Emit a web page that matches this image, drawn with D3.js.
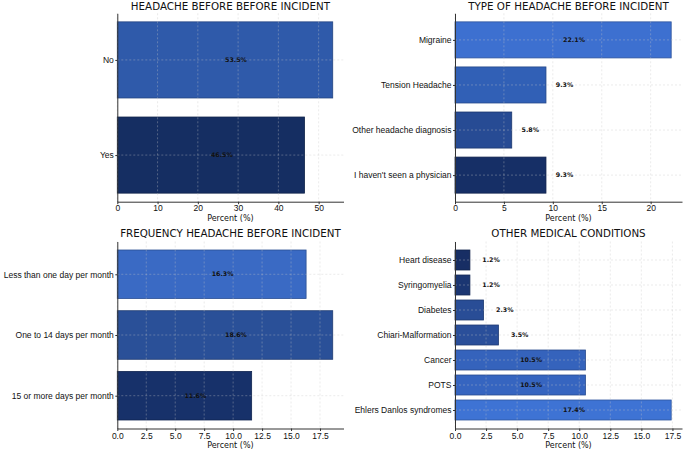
<!doctype html>
<html lang="en">
<head>
<meta charset="utf-8">
<title>Headache survey panels</title>
<style>
  body { margin: 0; background: #fff; }
  svg { display: block; font-family: "DejaVu Sans", sans-serif; }
  .title { font-size: 10.3px; fill: #111; }
  .xlabel { font-size: 8px; fill: #111; }
  .tick text { font-size: 8.5px; fill: #111; }
  .val { font-size: 6.3px; font-weight: bold; fill: #111; }
  .grid line { stroke: #c8c8c8; stroke-opacity: 0.6; stroke-dasharray: 2,2; stroke-width: 0.6; }
</style>
<script src="https://d3js.org/d3.v7.min.js"></script>
</head>
<body>
<div id="chart"></div>
<script>
// data, top to bottom in each panel
var headacheCats = ["No", "Yes"];
var headacheVals = [53.5, 46.5];
var headacheTicks = [0, 10, 20, 30, 40, 50];

var typeCats = ["Migraine", "Tension Headache", "Other headache diagnosis", "I haven't seen a physician"];
var typeVals = [22.1, 9.3, 5.8, 9.3];
var typeTicks = [0, 5, 10, 15, 20];

var freqCats = ["Less than one day per month", "One to 14 days per month", "15 or more days per month"];
var freqVals = [16.3, 18.6, 11.6];
var freqTicks = [0, 2.5, 5, 7.5, 10, 12.5, 15, 17.5];

var condCats = ["Heart disease", "Syringomyelia", "Diabetes", "Chiari-Malformation", "Cancer", "POTS", "Ehlers Danlos syndromes"];
var condVals = [1.2, 1.2, 2.3, 3.5, 10.5, 10.5, 17.4];
var condTicks = [0, 2.5, 5, 7.5, 10, 12.5, 15, 17.5];

var W = 685, H = 451;
var svg = d3.select("#chart").append("svg").attr("width", W).attr("height", H);

// panel boxes (axes area) + colours
var panels = [
  {title: "HEADACHE BEFORE BEFORE INCIDENT", cats: headacheCats, vals: headacheVals, ticks: headacheTicks, fmt: d3.format("d"),
   x0: 117.3, x1: 343.5, top: 13.3, bottom: 201.7, tickY: 211, labY: 220.5, titleY: 10,
   colors: ["#2f5aaa", "#152e62"]},
  {title: "TYPE OF HEADACHE BEFORE INCIDENT", cats: typeCats, vals: typeVals, ticks: typeTicks, fmt: d3.format("d"),
   x0: 455, x1: 682, top: 13.3, bottom: 201.7, tickY: 211, labY: 220.5, titleY: 10,
   colors: ["#3d70d0", "#3160b6", "#274b94", "#162f66"]},
  {title: "FREQUENCY HEADACHE BEFORE INCIDENT", cats: freqCats, vals: freqVals, ticks: freqTicks, fmt: d3.format(".1f"),
   x0: 117.3, x1: 343.5, top: 241.5, bottom: 428.5, tickY: 438.5, labY: 447.8, titleY: 237,
   colors: ["#3a6ac4", "#2a5098", "#17316a"]},
  {title: "OTHER MEDICAL CONDITIONS", cats: condCats, vals: condVals, ticks: condTicks, fmt: d3.format(".1f"),
   x0: 455, x1: 682, top: 241.5, bottom: 428.5, tickY: 438.5, labY: 447.8, titleY: 237,
   colors: ["#172e64", "#1b3672", "#294d96", "#2a4f9a", "#3563bc", "#3665c0", "#3e73d4"]}
];

panels.forEach(function(p) {
  var n = p.cats.length;
  var m = 0.05 * (n - 1 + 0.8);
  var x = d3.scaleLinear().domain([0, d3.max(p.vals) * 1.05]).range([p.x0, p.x1]);
  var y = d3.scaleLinear().domain([-0.4 - m, n - 1 + 0.4 + m]).range([p.top, p.bottom]);
  var g = svg.append("g");

  // bars
  g.selectAll("rect").data(p.vals).enter().append("rect")
    .attr("x", x(0))
    .attr("y", function(d, i) { return y(i - 0.4); })
    .attr("width", function(d) { return x(d) - x(0); })
    .attr("height", function(d, i) { return y(i + 0.4) - y(i - 0.4); })
    .attr("fill", function(d, i) { return p.colors[i]; })
    .attr("stroke", function(d, i) { return d3.color(p.colors[i]).darker(0.8); })
    .attr("stroke-width", 0.8);

  // grid on top of bars
  var grid = g.append("g").attr("class", "grid");
  grid.selectAll(".gx").data(p.ticks).enter().append("line")
    .attr("x1", function(d) { return x(d); }).attr("x2", function(d) { return x(d); })
    .attr("y1", p.top).attr("y2", p.bottom);
  grid.selectAll(".gy").data(p.cats).enter().append("line")
    .attr("x1", p.x0).attr("x2", p.x1)
    .attr("y1", function(d, i) { return y(i); }).attr("y2", function(d, i) { return y(i); });

  // value labels: inside (from the middle) for large bars, after the bar otherwise
  g.selectAll(".val").data(p.vals).enter().append("text")
    .attr("class", "val")
    .attr("x", function(d) { return d > 10 ? x(d / 2) : x(d + 1); })
    .attr("y", function(d, i) { return y(i); })
    .attr("dy", "0.35em")
    .text(function(d) { return d.toFixed(1) + "%"; });

  // axes
  var xAxis = d3.axisBottom(x).tickValues(p.ticks).tickFormat(p.fmt).tickSizeInner(2.5).tickSizeOuter(0).tickPadding(2);
  var ax = g.append("g").attr("transform", "translate(0," + p.bottom + ")").call(xAxis);
  ax.select(".domain").attr("stroke", "#333").attr("stroke-width", 1);
  ax.selectAll(".tick line").attr("stroke", "#333");
  ax.selectAll(".tick text").attr("dy", null).attr("y", p.tickY - p.bottom);

  var yAxis = d3.axisLeft(y).tickValues(d3.range(n)).tickFormat(function(i) { return p.cats[i]; })
    .tickSizeInner(2).tickSizeOuter(0).tickPadding(1.5);
  var ay = g.append("g").attr("transform", "translate(" + p.x0 + ",0)").call(yAxis);
  ay.select(".domain").attr("stroke", "#333").attr("stroke-width", 1);
  ay.selectAll(".tick line").attr("stroke", "#333");

  g.append("text").attr("class", "xlabel")
    .attr("x", (p.x0 + p.x1) / 2).attr("y", p.labY)
    .attr("text-anchor", "middle").text("Percent (%)");

  g.append("text").attr("class", "title")
    .attr("x", (p.x0 + p.x1) / 2).attr("y", p.titleY)
    .attr("text-anchor", "middle").text(p.title);
});
</script>
</body>
</html>
